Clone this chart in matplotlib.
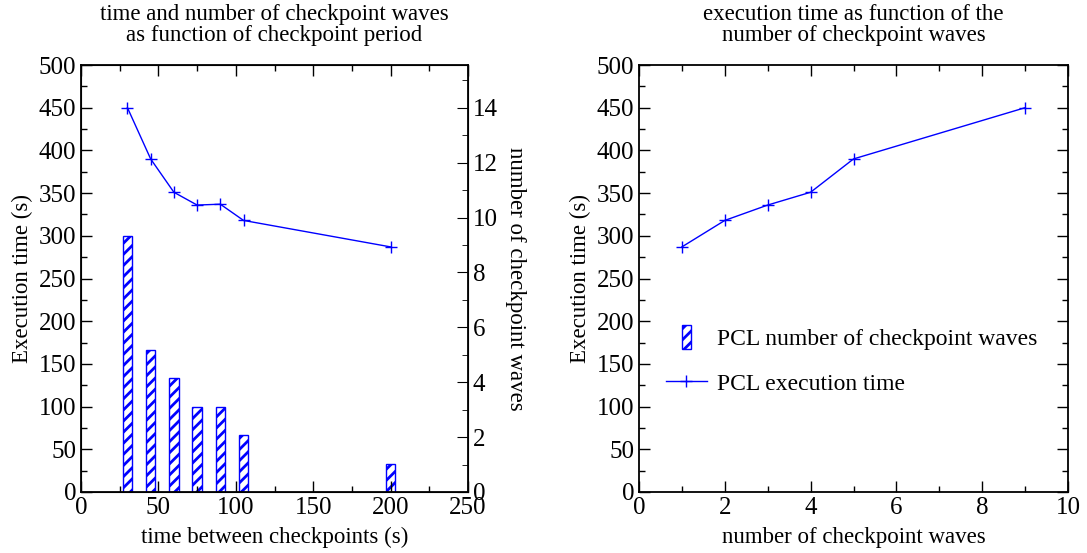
import matplotlib
matplotlib.use("Agg")
import matplotlib.pyplot as plt
import matplotlib.patches as mpatches
from matplotlib.legend_handler import HandlerPatch
from matplotlib.ticker import MultipleLocator

plt.rcParams['font.family'] = ['Liberation Serif', 'DejaVu Serif']
plt.rcParams['hatch.linewidth'] = 2.0
plt.rcParams['hatch.color'] = 'blue'

# Data
period = [30, 45, 60, 75, 90, 105, 200]           # time between checkpoints (s)
exec_time = [450, 390, 351, 336, 337, 318, 287]   # execution time (s)
waves = [9, 5, 4, 3, 3, 2, 1]                     # number of checkpoint waves

waves_r = [1, 2, 3, 4, 5, 9]
exec_time_r = [287, 318, 336, 351, 390, 450]

TFS = 18   # tick labels
LFS = 16.5 # axis labels / titles
GFS = 17   # legend

fig = plt.figure(figsize=(10.87, 5.53), dpi=100)

def style(ax, right=True, top=True):
    ax.tick_params(which='both', direction='in', top=top, right=right, labelsize=TFS)
    ax.tick_params(which='major', length=8, width=1)
    ax.tick_params(which='minor', length=4, width=1)
    for s in ax.spines.values():
        s.set_linewidth(1.3)

# Left panel
ax = fig.add_axes([81/1087, 61/553, 387/1087, 427/553])
axb = ax.twinx()
ax2 = ax.twinx()

bars = axb.bar(period, waves, width=6, facecolor='white', edgecolor='blue', hatch='///',
               linewidth=1, label='PCL number of checkpoint waves')
axb.set_ylim(0, 15)
axb.axis('off')

line, = ax.plot(period, exec_time, color='blue', marker='+', markersize=8, linewidth=1,
                label='PCL execution time')
ax.set_xlim(0, 250)
ax.set_ylim(0, 500)
ax.xaxis.set_major_locator(MultipleLocator(50))
ax.xaxis.set_minor_locator(MultipleLocator(25))
ax.yaxis.set_major_locator(MultipleLocator(50))
ax.yaxis.set_minor_locator(MultipleLocator(25))
style(ax, right=False)
ax.set_zorder(5)
ax.patch.set_visible(False)
ax.set_xlabel('time between checkpoints (s)', fontsize=LFS, labelpad=6)
ax.set_ylabel('Execution time (s)', fontsize=LFS, labelpad=4)
ax.set_title('time and number of checkpoint waves\nas function of checkpoint period',
             fontsize=LFS, linespacing=1.0, pad=17)

ax2.set_ylim(0, 500 * 14 / 450)
ax2.yaxis.set_major_locator(MultipleLocator(2))
ax2.yaxis.set_minor_locator(MultipleLocator(1))
ax2.tick_params(which='both', direction='in', labelsize=TFS)
ax2.tick_params(which='major', length=8)
ax2.tick_params(which='minor', length=4)
ax2.set_ylabel('number of checkpoint waves', fontsize=LFS, rotation=270, labelpad=20)

# Right panel
bx = fig.add_axes([639/1087, 61/553, 429/1087, 427/553])
bx.plot(waves_r, exec_time_r, color='blue', marker='+', markersize=8, linewidth=1)
bx.set_xlim(0, 10)
bx.set_ylim(0, 500)
bx.xaxis.set_major_locator(MultipleLocator(2))
bx.xaxis.set_minor_locator(MultipleLocator(1))
bx.yaxis.set_major_locator(MultipleLocator(50))
bx.yaxis.set_minor_locator(MultipleLocator(25))
style(bx)
bx.set_xlabel('number of checkpoint waves', fontsize=LFS, labelpad=6)
bx.set_ylabel('Execution time (s)', fontsize=LFS, labelpad=4)
bx.set_title('execution time as function of the\nnumber of checkpoint waves',
             fontsize=LFS, linespacing=1.0, pad=17)

def small_patch(legend, orig_handle, xdescent, ydescent, width, height, fontsize):
    w = 7.0
    h = height * 1.3
    return mpatches.Rectangle((width / 2 - w / 2 - xdescent, height / 2 - h / 2 - ydescent),
                              w, h)

bx.legend([bars.patches[0], line],
          ['PCL number of checkpoint waves', 'PCL execution time'],
          loc='center left', bbox_to_anchor=(0.013, 0.306),
          frameon=False, fontsize=GFS, handlelength=1.75, handleheight=0.8,
          handletextpad=0.4, labelspacing=0.95,
          handler_map={mpatches.Rectangle: HandlerPatch(patch_func=small_patch)})

fig.savefig('out.png', dpi=100)
